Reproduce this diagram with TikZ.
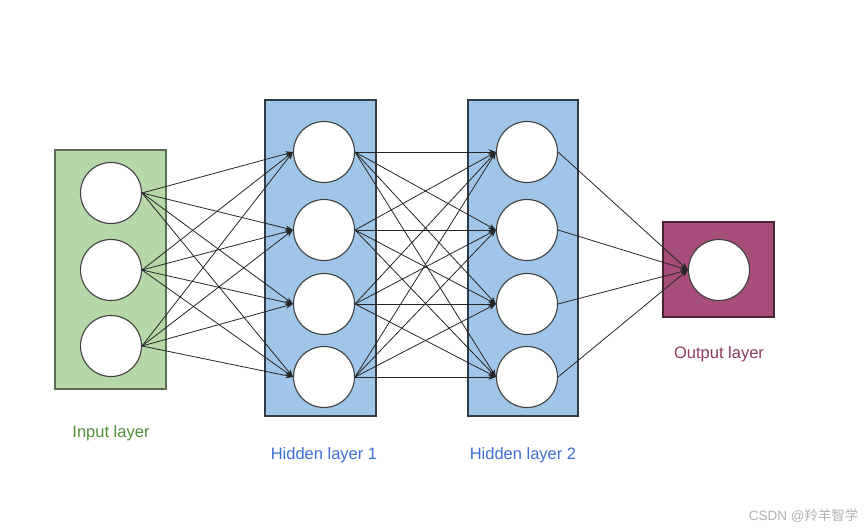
\documentclass[tikz,border=0pt]{standalone}
\usepackage{fontspec}
\setmainfont{Liberation Sans}
\newfontfamily\cjk{Noto Sans CJK SC}
\usetikzlibrary{arrows.meta}
\definecolor{ingreen}{HTML}{B6D7A8}
\definecolor{hidblue}{HTML}{9FC5E8}
\definecolor{outpurple}{HTML}{A64D79}
\definecolor{ingreentext}{HTML}{4F8F3A}
\definecolor{hidbluetext}{HTML}{3D6FCF}
\definecolor{outpurpletext}{HTML}{8E3A64}
\begin{document}
\begin{tikzpicture}[x=1pt,y=-1pt,
	neuron/.style={circle,draw=black!75,line width=1.1pt,fill=white,minimum size=61pt,inner sep=0pt},
	layerbox/.style={line width=1.4pt},
	synapse/.style={draw=black!85,line width=0.8pt,-{Stealth[length=7.5pt,width=5.5pt]}},
	lbl/.style={font=\fontsize{16.5}{18}\selectfont}]
			\useasboundingbox (0,0) rectangle (865,532);
			\draw[layerbox,draw=black!50!ingreen,fill=ingreen] (55,150) rectangle (166,389);
			\draw[layerbox,draw=black!70!hidblue,fill=hidblue] (265,100) rectangle (376,416);
			\draw[layerbox,draw=black!70!hidblue,fill=hidblue] (468,100) rectangle (578,416);
			\draw[layerbox,draw=black!55!outpurple,fill=outpurple] (663,222) rectangle (774,317);
			\node[neuron] (i1) at (111,193) {};
			\node[neuron] (i2) at (111,270) {};
			\node[neuron] (i3) at (111,346) {};
			\node[neuron] (a1) at (324,152) {};
			\node[neuron] (a2) at (324,230) {};
			\node[neuron] (a3) at (324,304) {};
			\node[neuron] (a4) at (324,377) {};
			\node[neuron] (b1) at (527,152) {};
			\node[neuron] (b2) at (527,230) {};
			\node[neuron] (b3) at (527,304) {};
			\node[neuron] (b4) at (527,377) {};
			\node[neuron] (o) at (719,270) {};
			\foreach \s in {1,2,3}
				\foreach \t in {1,2,3,4}
					\draw[synapse] (i\s.east) -- (a\t.west);
			\foreach \s in {1,2,3,4}
				\foreach \t in {1,2,3,4}
					\draw[synapse] (a\s.east) -- (b\t.west);
			\foreach \s in {1,2,3,4}
				\draw[synapse] (b\s.east) -- (o.west);
			\node[lbl,text=ingreentext] (inlbl) at (111,433) {Input layer};
			\node[lbl,text=hidbluetext] (h1lbl) at (324,455) {Hidden layer 1};
			\node[lbl,text=hidbluetext] (h2lbl) at (523,455) {Hidden layer 2};
			\node[lbl,text=outpurpletext] (outlbl) at (719,354) {Output layer};
			\node[text=black!30,font=\fontsize{13.5}{15}\selectfont,anchor=east] (mark) at (862,516) {CSDN @{\cjk 羚羊智学}};
			\end{tikzpicture}
\end{document}
